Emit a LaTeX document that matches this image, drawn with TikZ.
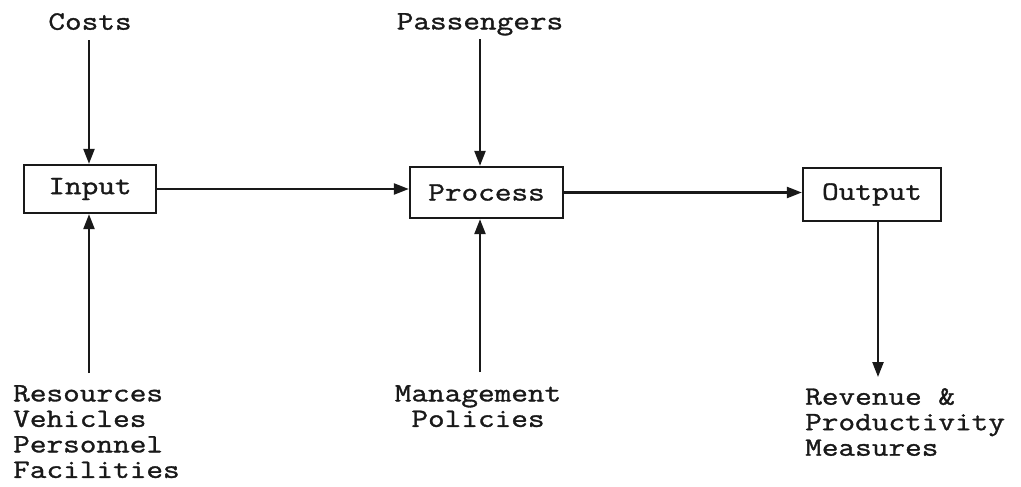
\documentclass[tikz,border=0pt]{standalone}
\usepackage{fontspec}
\setmonofont{Latin Modern Mono}[FakeStretch=1.22,FakeBold=1.2]
\usetikzlibrary{arrows.meta}
\begin{document}
\begin{tikzpicture}[x=1pt,y=-1pt,
  every node/.style={font=\ttfamily\fontsize{26.5}{25.5}\selectfont, inner sep=0pt, text=black!90},
  box/.style={draw=black!90, line width=2.3pt, minimum width=#1, inner sep=0pt},
  arr/.style={draw=black!90, line width=2.3pt, -{Triangle[length=15pt,width=11pt]}}]
\useasboundingbox (0,0) rectangle (1021,487);
\fill[white] (0,0) rectangle (1021,487);
% boxes
\node[box=132pt, minimum height=48pt] (input) at (90,189) {Input};
\node[box=153pt, minimum height=51pt] (process) at (486.5,192.5) {Process};
\node[box=138pt, minimum height=53pt] (output) at (872,194.5) {Output};
% labels
\node[anchor=north] (costs) at (90,13) {Costs};
\node[anchor=north] (pass) at (480,13) {Passengers};
\node[anchor=north west, align=left] (res) at (13,385) {Resources\\Vehicles\\Personnel\\Facilities};
\node[anchor=north, align=center] (mgmt) at (478,385) {Management\\Policies};
\node[anchor=north west, align=left] (rev) at (805,388) {Revenue \&\\Productivity\\Measures};
% connectors
\coordinate (cx) at (89,0);
\coordinate (px) at (480,0);
\coordinate (ox) at (878,0);
\draw[arr] ([yshift=-10pt]costs.south -| cx) -- (input.north -| cx);
\draw[arr] ([yshift=12pt]res.north -| cx) -- (input.south -| cx);
\draw[arr] ([yshift=-10pt]pass.base -| px) -- (process.north -| px);
\draw[arr] ([yshift=13pt]mgmt.north -| px) -- (process.south -| px);
\draw[arr] (input.east) -- (process.west |- input.east);
\draw[arr] (process.east) -- (output.west |- process.east);
\draw[arr] (output.south -| ox) -- ([yshift=11pt]rev.north -| ox);
\end{tikzpicture}
\end{document}
